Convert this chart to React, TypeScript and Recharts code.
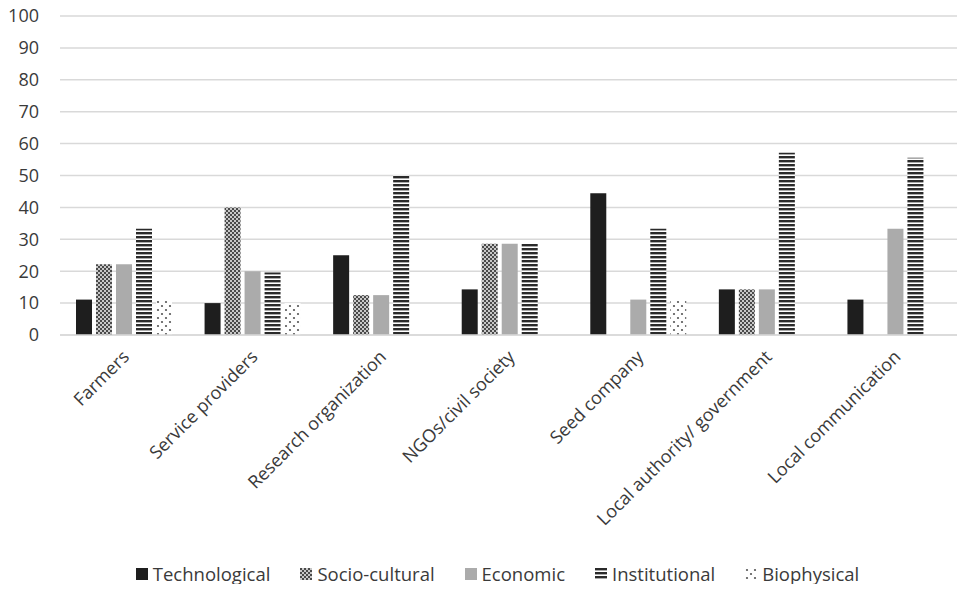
import React from 'react';
import { BarChart, Bar, XAxis, YAxis, CartesianGrid } from 'recharts';

const categories = [
  'Farmers',
  'Service providers',
  'Research organization',
  'NGOs/civil society',
  'Seed company',
  'Local authority/ government',
  'Local communication',
];

const technological = [11.1, 10, 25, 14.3, 44.4, 14.3, 11.1];
const socioCultural = [22.2, 40, 12.5, 28.6, 0, 14.3, 0];
const economic = [22.2, 20, 12.5, 28.6, 11.1, 14.3, 33.3];
const institutional = [33.3, 19.6, 50, 28.6, 33.3, 57.1, 55.6];
const biophysical = [11.1, 10, 0, 0, 11.1, 0, 0];

const yTicks = [0, 10, 20, 30, 40, 50, 60, 70, 80, 90, 100];

const chartData = categories.map((name, i) => ({
  name,
  technological: technological[i],
  socio: socioCultural[i],
  economic: economic[i],
  institutional: institutional[i],
  biophysical: biophysical[i],
}));

const series = [
  { key: 'technological', name: 'Technological', fill: '#1e1e1e' },
  { key: 'socio', name: 'Socio-cultural', fill: 'url(#pSocio)' },
  { key: 'economic', name: 'Economic', fill: '#ababab' },
  { key: 'institutional', name: 'Institutional', fill: 'url(#pInst)' },
  { key: 'biophysical', name: 'Biophysical', fill: 'url(#pBio)' },
];

const FONT = '"Open Sans", "Liberation Sans", sans-serif';
const TEXT = '#3a3a3a';

function Patterns({ prefix }: { prefix: string }) {
  return (
    <defs>
      <pattern id={prefix + 'Socio'} width="4" height="4" patternUnits="userSpaceOnUse">
        <rect width="4" height="4" fill="#c8c8c8" />
        <rect x="0" y="0" width="2" height="2" fill="#4a4a4a" />
        <rect x="2" y="2" width="2" height="2" fill="#4a4a4a" />
      </pattern>
      <pattern id={prefix + 'Inst'} width="4" height="4" patternUnits="userSpaceOnUse">
        <rect width="4" height="4" fill="#ffffff" />
        <rect x="0" y="0" width="4" height="2.4" fill="#2a2a2a" />
      </pattern>
      <pattern id={prefix + 'Bio'} width="8" height="8" patternUnits="userSpaceOnUse">
        <rect width="8" height="8" fill="#ffffff" />
        <circle cx="2" cy="2" r="1.1" fill="#555" />
        <circle cx="6" cy="6" r="1.1" fill="#555" />
      </pattern>
    </defs>
  );
}

const XTick = (props: any) => {
  const { x, y, payload } = props;
  return (
    <text
      x={x + 6}
      y={y + 15}
      transform={`rotate(-45, ${x + 6}, ${y + 15})`}
      textAnchor="end"
      fontSize={18}
      fill={TEXT}
      fontFamily={FONT}
    >
      {payload.value}
    </text>
  );
};

export default function App() {
  return (
    <div style={{ margin: -8, width: 965, height: 592, background: '#fff', position: 'relative' }}>
      <BarChart
        width={965}
        height={558}
        data={chartData}
        margin={{ top: 16, right: 5, left: 0, bottom: 0 }}
        barSize={16}
        barGap={4}
      >
        <Patterns prefix="p" />
        <CartesianGrid vertical={false} stroke="#d9d9d9" strokeWidth={1.5} />
        <XAxis
          dataKey="name"
          interval={0}
          height={223}
          tick={<XTick />}
          tickLine={false}
          axisLine={{ stroke: '#d9d9d9', strokeWidth: 1.5 }}
        />
        <YAxis
          domain={[0, 100]}
          ticks={yTicks}
          width={60}
          tickLine={false}
          axisLine={false}
          tickSize={0}
          tickMargin={21}
          tick={{ fontSize: 18, fill: TEXT, fontFamily: FONT }}
        />
        {series.map((s) => (
          <Bar key={s.key} dataKey={s.key} name={s.name} fill={s.fill} isAnimationActive={false} />
        ))}
      </BarChart>
      <div
        style={{
          position: 'absolute',
          top: 561,
          left: 0,
          width: 965,
          display: 'flex',
          justifyContent: 'center',
          gap: 30,
          fontFamily: FONT,
          fontSize: 18.5,
          lineHeight: '26px',
          color: TEXT,
          paddingLeft: 30,
          boxSizing: 'border-box',
        }}
      >
        {series.map((s) => (
          <div key={s.key} style={{ display: 'flex', alignItems: 'center' }}>
            <svg width={12} height={12} style={{ marginRight: 5 }}>
              <Patterns prefix={'l' + s.key} />
              <rect
                width={12}
                height={12}
                fill={s.fill.replace('url(#p', 'url(#l' + s.key)}
              />
            </svg>
            <span>{s.name}</span>
          </div>
        ))}
      </div>
    </div>
  );
}
